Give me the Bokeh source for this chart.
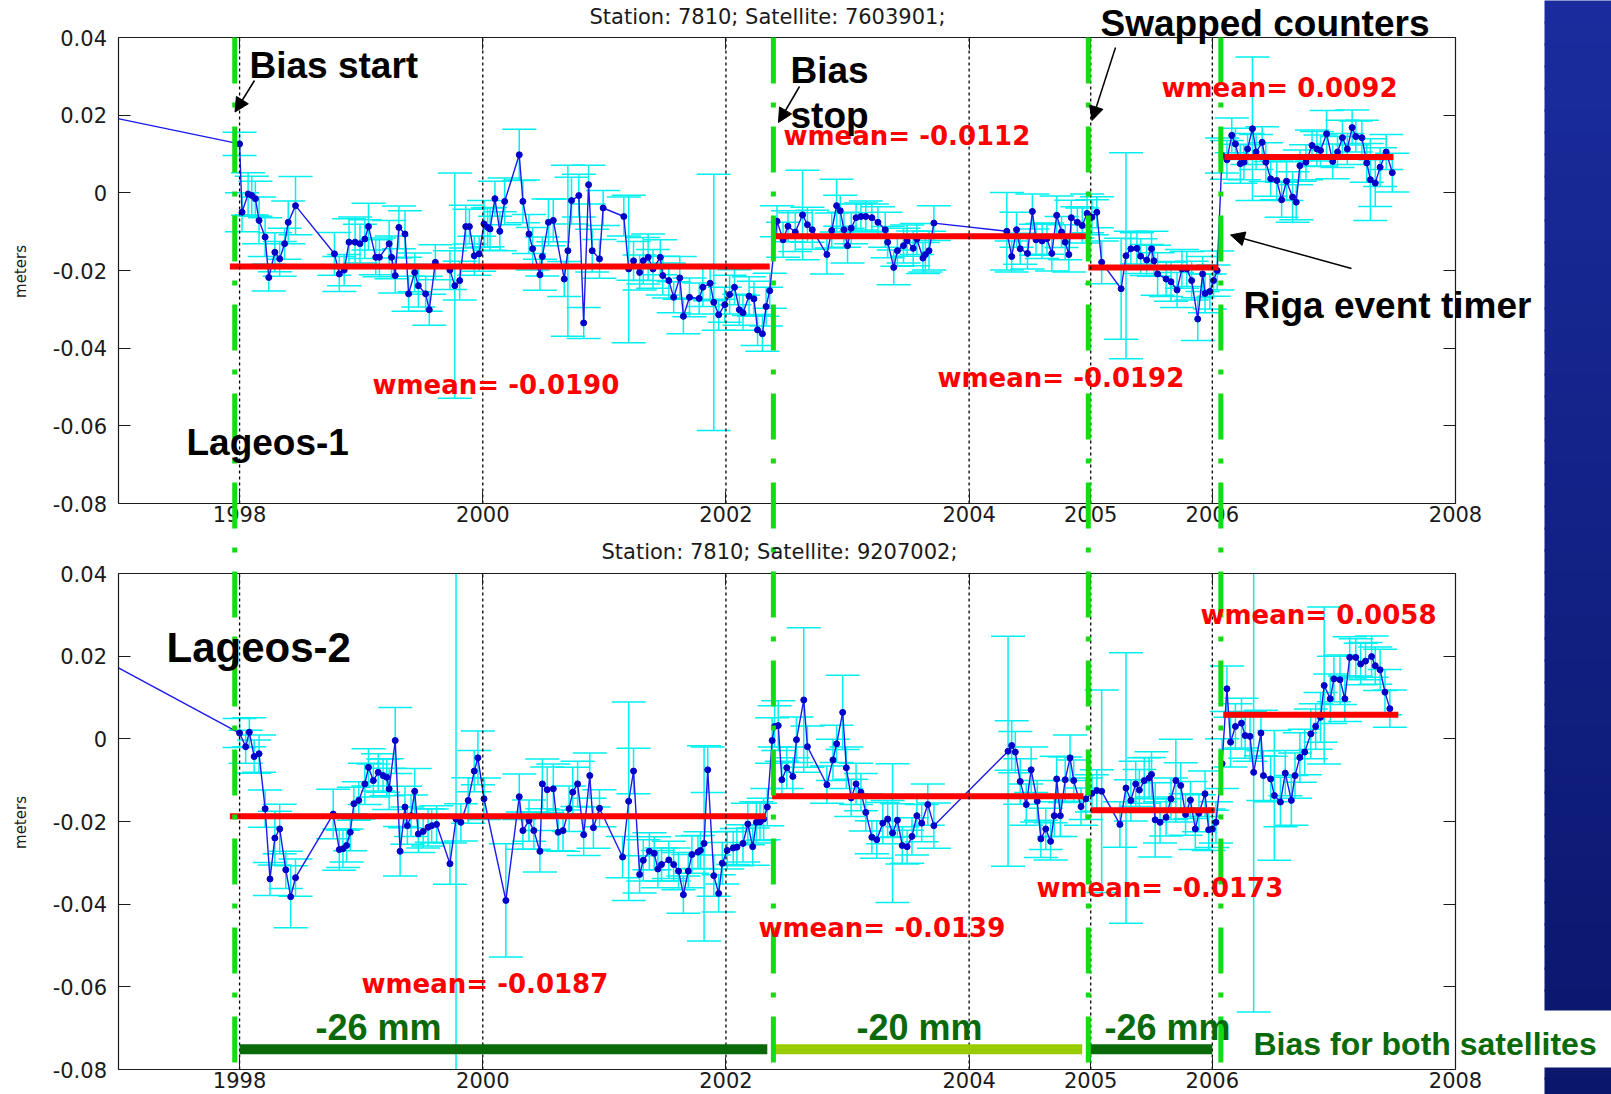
import numpy as np
from bokeh.plotting import figure
from bokeh.models import (ColumnDataSource, Range1d, LinearAxis, FixedTicker, Label,
                          Arrow, NormalHead, BoxAnnotation)
from bokeh.embed import file_html
from bokeh.resources import INLINE

# ---------------------------------------------------------------- data
x_ticks = [1998, 2000, 2002, 2004, 2005, 2006, 2008]
grid_years = [1998, 2000, 2002, 2004, 2005, 2006]
y_ticks = [-0.08, -0.06, -0.04, -0.02, 0.0, 0.02, 0.04]
y_tick_labels = ["-0.08", "-0.06", "-0.04", "-0.02", "0", "0.02", "0.04"]

event_years = [1997.96, 2002.39, 2004.98, 2006.07]

# Lageos-1 (station 7810, satellite 7603901)
l1_t = [1996.80, 1998.00, 1998.02, 1998.07, 1998.10, 1998.13, 1998.16, 1998.21, 1998.24, 1998.29,
        1998.33, 1998.37, 1998.40, 1998.46, 1998.78, 1998.82, 1998.86, 1998.90, 1998.95, 1998.99,
        1999.03, 1999.06, 1999.12, 1999.15, 1999.23, 1999.25, 1999.28, 1999.31, 1999.36, 1999.39,
        1999.44, 1999.47, 1999.53, 1999.56, 1999.61, 1999.73, 1999.77, 1999.81, 1999.86, 1999.89,
        1999.93, 1999.97, 2000.01, 2000.04, 2000.06, 2000.10, 2000.14, 2000.18, 2000.30, 2000.33,
        2000.38, 2000.41, 2000.47, 2000.49, 2000.54, 2000.58, 2000.67, 2000.70, 2000.73, 2000.79,
        2000.83, 2000.87, 2000.90, 2000.96, 2000.99, 2001.16, 2001.20, 2001.24, 2001.29, 2001.32,
        2001.36, 2001.40, 2001.46, 2001.48, 2001.53, 2001.57, 2001.62, 2001.65, 2001.70, 2001.78,
        2001.81, 2001.87, 2001.90, 2001.94, 2001.99, 2002.03, 2002.07, 2002.11, 2002.14, 2002.19,
        2002.23, 2002.26, 2002.30, 2002.33, 2002.36, 2002.42, 2002.47, 2002.51, 2002.57, 2002.63,
        2002.67, 2002.71, 2002.83, 2002.87, 2002.91, 2002.94, 2002.97, 2003.00, 2003.03, 2003.07,
        2003.11, 2003.15, 2003.20, 2003.25, 2003.31, 2003.33, 2003.38, 2003.41, 2003.46, 2003.49,
        2003.54, 2003.57, 2003.62, 2003.64, 2003.67, 2003.71, 2004.31, 2004.35, 2004.39, 2004.42,
        2004.48, 2004.52, 2004.55, 2004.60, 2004.64, 2004.68, 2004.72, 2004.76, 2004.79, 2004.82,
        2004.84, 2004.89, 2004.93, 2004.97, 2005.01, 2005.05, 2005.09, 2005.25, 2005.29, 2005.33,
        2005.38, 2005.41, 2005.46, 2005.50, 2005.52, 2005.55, 2005.62, 2005.66, 2005.71, 2005.75,
        2005.79, 2005.83, 2005.88, 2005.92, 2005.94, 2005.98, 2006.01, 2006.04, 2006.08, 2006.12,
        2006.16, 2006.19, 2006.23, 2006.26, 2006.29, 2006.33, 2006.36, 2006.41, 2006.44, 2006.48,
        2006.53, 2006.57, 2006.61, 2006.66, 2006.69, 2006.72, 2006.77, 2006.82, 2006.86, 2006.89,
        2006.94, 2006.99, 2007.03, 2007.07, 2007.11, 2007.15, 2007.18, 2007.23, 2007.27, 2007.30,
        2007.34, 2007.38, 2007.43, 2007.48]
l1_v = [0.0204, 0.0126, -0.0050, -0.0003, -0.0007, -0.0015, -0.0071, -0.0114, -0.0218, -0.0153,
        -0.0170, -0.0131, -0.0076, -0.0033, -0.0157, -0.0209, -0.0199, -0.0127, -0.0127, -0.0131,
        -0.0119, -0.0087, -0.0166, -0.0166, -0.0131, -0.0166, -0.0213, -0.0089, -0.0106, -0.0260,
        -0.0205, -0.0239, -0.0260, -0.0301, -0.0179, -0.0199, -0.0239, -0.0226, -0.0087, -0.0087,
        -0.0162, -0.0157, -0.0080, -0.0089, -0.0093, -0.0015, -0.0099, -0.0022, 0.0098, -0.0022,
        -0.0106, -0.0144, -0.0211, -0.0164, -0.0076, -0.0071, -0.0222, -0.0149, -0.0020, -0.0007,
        -0.0335, 0.0021, -0.0149, -0.0170, -0.0039, -0.0061, -0.0196, -0.0175, -0.0205, -0.0175,
        -0.0166, -0.0196, -0.0166, -0.0213, -0.0226, -0.0269, -0.0219, -0.0318, -0.0269, -0.0272,
        -0.0243, -0.0233, -0.0282, -0.0314, -0.0288, -0.0262, -0.0243, -0.0301, -0.0309, -0.0266,
        -0.0273, -0.0353, -0.0363, -0.0293, -0.0252, -0.0073, -0.0121, -0.0086, -0.0101, -0.0057,
        -0.0082, -0.0095, -0.0159, -0.0097, -0.0033, -0.0046, -0.0095, -0.0136, -0.0091, -0.0064,
        -0.0061, -0.0061, -0.0064, -0.0076, -0.0095, -0.0127, -0.0192, -0.0149, -0.0136, -0.0123,
        -0.0143, -0.0119, -0.0168, -0.0159, -0.0149, -0.0078, -0.0099, -0.0164, -0.0095, -0.0144,
        -0.0156, -0.0048, -0.0121, -0.0124, -0.0118, -0.0156, -0.0058, -0.0101, -0.0127, -0.0159,
        -0.0064, -0.0076, -0.0084, -0.0053, -0.0063, -0.0050, -0.0179, -0.0247, -0.0162, -0.0144,
        -0.0143, -0.0163, -0.0173, -0.0144, -0.0175, -0.0209, -0.0222, -0.0229, -0.0250, -0.0196,
        -0.0196, -0.0226, -0.0325, -0.0209, -0.0259, -0.0254, -0.0226, -0.0200, 0.0096, 0.0085,
        0.0148, 0.0126, 0.0075, 0.0079, 0.0113, 0.0165, 0.0105, 0.0130, 0.0079, 0.0036,
        0.0032, -0.0018, 0.0030, -0.0011, -0.0024, 0.0070, 0.0079, 0.0122, 0.0113, 0.0109,
        0.0152, 0.0081, 0.0105, 0.0142, 0.0113, 0.0168, 0.0145, 0.0142, 0.0077, 0.0034,
        0.0025, 0.0066, 0.0105, 0.0052]
l1_e = [0.004, 0.003, 0.005, 0.0055, 0.005, 0.0045, 0.006, 0.005, 0.0035, 0.005,
        0.0045, 0.004, 0.0055, 0.0075, 0.0055, 0.0045, 0.004, 0.006, 0.0065, 0.005,
        0.005, 0.006, 0.0045, 0.005, 0.006, 0.0055, 0.0045, 0.0055, 0.006, 0.0045,
        0.005, 0.0055, 0.0045, 0.004, 0.0045, 0.005, 0.029, 0.005, 0.0055, 0.0045,
        0.005, 0.0045, 0.006, 0.005, 0.0055, 0.0045, 0.005, 0.006, 0.0066, 0.0055,
        0.005, 0.0055, 0.004, 0.005, 0.006, 0.0055, 0.0045, 0.022, 0.006, 0.0055,
        0.004, 0.005, 0.0055, 0.005, 0.0045, 0.005, 0.019, 0.005, 0.0045, 0.006,
        0.006, 0.005, 0.0045, 0.005, 0.0045, 0.004, 0.0055, 0.0045, 0.005, 0.004,
        0.005, 0.0045, 0.033, 0.004, 0.0045, 0.005, 0.0045, 0.004, 0.0045, 0.005,
        0.0045, 0.004, 0.0045, 0.005, 0.0045, 0.004, 0.0045, 0.004, 0.005, 0.0115,
        0.0045, 0.005, 0.005, 0.0045, 0.0068, 0.004, 0.0045, 0.0045, 0.004, 0.0035,
        0.0035, 0.004, 0.0035, 0.004, 0.0045, 0.004, 0.0045, 0.004, 0.0045, 0.004,
        0.0045, 0.004, 0.004, 0.0045, 0.005, 0.0045, 0.010, 0.004, 0.0045, 0.004,
        0.004, 0.0045, 0.004, 0.0045, 0.004, 0.0045, 0.005, 0.004, 0.0045, 0.0045,
        0.0045, 0.004, 0.0045, 0.005, 0.0045, 0.004, 0.0055, 0.013, 0.0265, 0.0045,
        0.004, 0.0045, 0.004, 0.0045, 0.004, 0.0055, 0.0045, 0.005, 0.0045, 0.005,
        0.0045, 0.005, 0.0055, 0.0045, 0.005, 0.0045, 0.004, 0.005, 0.0045, 0.005,
        0.0045, 0.004, 0.005, 0.0045, 0.004, 0.0185, 0.0045, 0.004, 0.005, 0.0045,
        0.005, 0.0045, 0.005, 0.0065, 0.0045, 0.004, 0.0045, 0.004, 0.0045, 0.004,
        0.006, 0.0045, 0.004, 0.0045, 0.004, 0.0045, 0.004, 0.0045, 0.005, 0.0105,
        0.006, 0.005, 0.0045, 0.005]
l1_wmean = [-0.0190, -0.0112, -0.0192, 0.0092]
l1_wmean_start = [1997.92, 2002.39, 2004.98, 2006.10]
l1_wmean_end = [2002.36, 2004.96, 2006.05, 2007.49]

# Lageos-2 (station 7810, satellite 9207002)
l2_t = [1996.80, 1998.00, 1998.05, 1998.08, 1998.12, 1998.16, 1998.21, 1998.25, 1998.29, 1998.33,
        1998.38, 1998.42, 1998.46, 1998.77, 1998.82, 1998.85, 1998.88, 1998.91, 1998.94, 1998.98,
        1999.03, 1999.06, 1999.10, 1999.14, 1999.18, 1999.21, 1999.23, 1999.28, 1999.32, 1999.36,
        1999.38, 1999.41, 1999.44, 1999.47, 1999.51, 1999.55, 1999.58, 1999.62, 1999.73, 1999.78,
        1999.82, 1999.88, 1999.93, 1999.96, 2000.01, 2000.19, 2000.30, 2000.33, 2000.38, 2000.42,
        2000.47, 2000.49, 2000.53, 2000.58, 2000.62, 2000.66, 2000.71, 2000.74, 2000.78, 2000.83,
        2000.88, 2000.91, 2000.96, 2001.15, 2001.20, 2001.24, 2001.29, 2001.32, 2001.37, 2001.41,
        2001.44, 2001.47, 2001.53, 2001.57, 2001.61, 2001.65, 2001.69, 2001.72, 2001.77, 2001.79,
        2001.82, 2001.85, 2001.90, 2001.94, 2001.97, 2002.01, 2002.06, 2002.09, 2002.14, 2002.18,
        2002.22, 2002.25, 2002.28, 2002.31, 2002.34, 2002.38, 2002.40, 2002.43, 2002.46, 2002.50,
        2002.55, 2002.58, 2002.64, 2002.67, 2002.83, 2002.88, 2002.91, 2002.96, 2002.99, 2003.03,
        2003.07, 2003.11, 2003.15, 2003.20, 2003.24, 2003.29, 2003.33, 2003.37, 2003.41, 2003.45,
        2003.49, 2003.53, 2003.57, 2003.61, 2003.66, 2003.71, 2004.32, 2004.35, 2004.38, 2004.42,
        2004.47, 2004.51, 2004.56, 2004.59, 2004.63, 2004.67, 2004.70, 2004.72, 2004.75, 2004.79,
        2004.83, 2004.86, 2004.92, 2004.96, 2005.01, 2005.05, 2005.09, 2005.24, 2005.29, 2005.33,
        2005.37, 2005.40, 2005.44, 2005.48, 2005.50, 2005.53, 2005.57, 2005.62, 2005.66, 2005.70,
        2005.74, 2005.78, 2005.82, 2005.86, 2005.89, 2005.94, 2005.97, 2006.00, 2006.03, 2006.08,
        2006.12, 2006.15, 2006.19, 2006.24, 2006.27, 2006.31, 2006.34, 2006.40, 2006.42, 2006.48,
        2006.51, 2006.56, 2006.60, 2006.65, 2006.68, 2006.72, 2006.76, 2006.81, 2006.85, 2006.89,
        2006.92, 2006.97, 2007.00, 2007.05, 2007.09, 2007.13, 2007.18, 2007.22, 2007.26, 2007.31,
        2007.34, 2007.38, 2007.42, 2007.46]
l2_v = [0.0204, 0.0014, -0.0019, 0.0016, -0.0043, -0.0036, -0.0169, -0.0339, -0.0240, -0.0218,
        -0.0317, -0.0382, -0.0336, -0.0182, -0.0268, -0.0266, -0.0258, -0.0226, -0.0157, -0.0149,
        -0.0109, -0.0069, -0.0101, -0.0081, -0.0089, -0.0093, -0.0121, -0.0004, -0.0272, -0.0165,
        -0.0210, -0.0186, -0.0127, -0.0230, -0.0224, -0.0214, -0.0210, -0.0207, -0.0302, -0.0194,
        -0.0202, -0.0149, -0.0078, -0.0046, -0.0145, -0.0391, -0.0140, -0.0222, -0.0198, -0.0222,
        -0.0272, -0.0109, -0.0123, -0.0121, -0.0226, -0.0222, -0.0169, -0.0129, -0.0109, -0.0232,
        -0.0089, -0.0215, -0.0168, -0.0286, -0.0151, -0.0078, -0.0328, -0.0294, -0.0272, -0.0277,
        -0.0315, -0.0304, -0.0293, -0.0304, -0.0320, -0.0377, -0.0320, -0.0280, -0.0274, -0.0270,
        -0.0253, -0.0075, -0.0331, -0.0374, -0.0301, -0.0270, -0.0264, -0.0262, -0.0253, -0.0206,
        -0.0261, -0.0202, -0.0201, -0.0194, -0.0165, -0.0004, 0.0030, 0.0032, -0.0099, -0.0070,
        -0.0091, -0.0002, 0.0094, -0.0019, -0.0111, -0.0051, -0.0012, 0.0064, -0.0070, -0.0143,
        -0.0109, -0.0129, -0.0178, -0.0238, -0.0244, -0.0204, -0.0194, -0.0228, -0.0197, -0.0258,
        -0.0261, -0.0236, -0.0186, -0.0204, -0.0159, -0.0210, -0.0030, -0.0016, -0.0032, -0.0103,
        -0.0159, -0.0075, -0.0151, -0.0242, -0.0218, -0.0248, -0.0186, -0.0097, -0.0186, -0.0099,
        -0.0046, -0.0101, -0.0164, -0.0145, -0.0132, -0.0125, -0.0127, -0.0207, -0.0119, -0.0149,
        -0.0109, -0.0124, -0.0101, -0.0095, -0.0086, -0.0196, -0.0202, -0.0190, -0.0145, -0.0101,
        -0.0113, -0.0183, -0.0148, -0.0218, -0.0180, -0.0133, -0.0220, -0.0218, -0.0202, -0.0060,
        0.0121, -0.0008, 0.0030, 0.0038, 0.0008, 0.0006, -0.0081, 0.0014, -0.0089, -0.0097,
        -0.0137, -0.0153, -0.0083, -0.0149, -0.0089, -0.0045, -0.0032, 0.0012, 0.0030, 0.0052,
        0.0129, 0.0097, 0.0145, 0.0143, 0.0097, 0.0197, 0.0197, 0.0181, 0.0188, 0.0199,
        0.0177, 0.0167, 0.0113, 0.0073]
l2_e = [0.004, 0.0035, 0.004, 0.0035, 0.004, 0.0045, 0.0045, 0.004, 0.0065, 0.006,
        0.0045, 0.0075, 0.0045, 0.006, 0.005, 0.0045, 0.004, 0.0045, 0.004, 0.0045,
        0.005, 0.0045, 0.004, 0.0045, 0.004, 0.0045, 0.005, 0.008, 0.006, 0.005,
        0.0045, 0.005, 0.0055, 0.0045, 0.004, 0.0045, 0.004, 0.0045, 0.005, 0.08,
        0.0045, 0.0055, 0.005, 0.0065, 0.005, 0.0137, 0.0055, 0.0045, 0.005, 0.0045,
        0.005, 0.006, 0.0055, 0.006, 0.0045, 0.005, 0.0055, 0.006, 0.0055, 0.005,
        0.0055, 0.005, 0.0045, 0.005, 0.024, 0.0055, 0.0045, 0.005, 0.0045, 0.004,
        0.0045, 0.004, 0.0045, 0.004, 0.0045, 0.0045, 0.004, 0.0045, 0.004, 0.0045,
        0.0236, 0.0055, 0.005, 0.0045, 0.005, 0.0045, 0.004, 0.0045, 0.0045, 0.005,
        0.0045, 0.005, 0.0045, 0.005, 0.0045, 0.0055, 0.005, 0.006, 0.0045, 0.005,
        0.0045, 0.0055, 0.0175, 0.005, 0.0045, 0.005, 0.0045, 0.009, 0.005, 0.0045,
        0.005, 0.0045, 0.0045, 0.004, 0.0045, 0.005, 0.0045, 0.0168, 0.004, 0.0045,
        0.004, 0.0045, 0.005, 0.0045, 0.005, 0.0055, 0.0278, 0.006, 0.005, 0.0055,
        0.005, 0.0055, 0.005, 0.0045, 0.005, 0.0045, 0.005, 0.0055, 0.005, 0.0055,
        0.0055, 0.005, 0.0045, 0.005, 0.0045, 0.005, 0.0245, 0.0055, 0.0327, 0.005,
        0.0055, 0.005, 0.0055, 0.005, 0.0055, 0.009, 0.005, 0.0045, 0.005, 0.010,
        0.0055, 0.005, 0.0045, 0.005, 0.0045, 0.0055, 0.005, 0.0045, 0.005, 0.006,
        0.0055, 0.006, 0.0055, 0.006, 0.0055, 0.006, 0.058, 0.0055, 0.006, 0.0055,
        0.0157, 0.006, 0.0055, 0.006, 0.0055, 0.006, 0.0055, 0.006, 0.0055, 0.006,
        0.019, 0.006, 0.0055, 0.006, 0.0055, 0.005, 0.0045, 0.005, 0.0045, 0.005,
        0.0045, 0.005, 0.0055, 0.0045]
l2_wmean = [-0.0187, -0.0139, -0.0173, 0.0058]
l2_wmean_start = [1997.92, 2002.38, 2005.00, 2006.09]
l2_wmean_end = [2002.33, 2004.94, 2006.02, 2007.53]

bias_mm = [-26, -20, -26]
bias_start = [1998.00, 2002.40, 2004.99]
bias_end = [2002.34, 2004.93, 2006.00]

# ---------------------------------------------------------------- layout / style
PAGE_W, PAGE_H = 1611, 1094
X0, X1, Y0, Y1 = 1997.0, 2008.0, -0.08, 0.04
FX = (117.5, 1455.0)          # page x of X0 and X1
TOP_F = (37.0, 503.0)         # page y of Y1 and Y0, upper panel
BOT_F = (573.0, 1069.0)       # page y of Y1 and Y0, lower panel

DEJ = "DejaVu Sans"
ARB = "Liberation Sans"
INK = "#1a1a1a"
CYAN = "#00f0f0"
BLUE_LINE = "#1a1aee"
BLUE_DOT = "#0000c8"
RED = "#ff0000"
GREEN_EV = "#11dd11"
DARK_GREEN = "#0a6a0a"
LIGHT_GREEN = "#99cc00"
CAP = 0.14


def xd(px):
    return X0 + (px - FX[0]) * (X1 - X0) / (FX[1] - FX[0])


def yd(py, f=TOP_F):
    return Y1 - (py - f[0]) * (Y1 - Y0) / (f[1] - f[0])


p = figure(width=PAGE_W, height=PAGE_H,
           x_range=Range1d(xd(0), xd(PAGE_W)), y_range=Range1d(yd(PAGE_H), yd(0)),
           output_backend="svg", toolbar_location=None, tools="", title=None,
           x_axis_location=None, y_axis_location=None, min_border=0,
           outline_line_color=None, background_fill_color="white", border_fill_color="white")
p.extra_y_ranges = {"bot": Range1d(yd(PAGE_H, BOT_F), yd(0, BOT_F))}
p.xgrid.visible = False
p.ygrid.visible = False


def style_axis(ax, ticks, labels, size, standoff):
    ax.ticker = FixedTicker(ticks=ticks)
    ax.major_label_overrides = {t: l for t, l in zip(ticks, labels)}
    ax.major_tick_in = 12
    ax.major_tick_out = 0
    ax.minor_tick_in = 0
    ax.minor_tick_out = 0
    ax.axis_line_color = INK
    ax.axis_line_width = 1.2
    ax.major_tick_line_color = INK
    ax.major_label_text_font = DEJ
    ax.major_label_text_font_size = size
    ax.major_label_text_color = INK
    ax.major_label_standoff = standoff


# --- blue slide band on the right (decoration, page coordinates)
c_top = np.array([0x1a, 0x2c, 0x9e])
c_bot = np.array([0x0a, 0x16, 0x6c])
band_edges = list(range(0, PAGE_H + 22, 22))
notch = (1010, 1068)
for a, b in zip(band_edges[:-1], band_edges[1:]):
    pieces = []
    if b <= notch[0] or a >= notch[1]:
        pieces = [(a, b)]
    else:
        if a < notch[0]:
            pieces.append((a, notch[0]))
        if b > notch[1]:
            pieces.append((notch[1], b))
    c = c_top + (c_bot - c_top) * ((a + b) / 2.0 / PAGE_H)
    col = "#%02x%02x%02x" % tuple(int(round(k)) for k in c)
    for s, e_ in pieces:
        bottom_edge = e_ + (1 if e_ not in notch else 0)
        p.add_layout(BoxAnnotation(left=xd(1544), right=xd(PAGE_W + 10), top=yd(s - (1 if s else 5)),
                                   bottom=yd(bottom_edge), fill_color=col, fill_alpha=1.0,
                                   line_color=None))


def panel(t, v, e, wm, wm0, wm1, yname):
    t = np.asarray(t, float); v = np.asarray(v, float); e = np.asarray(e, float)
    vis = t >= X0
    k = int(np.argmax(vis))
    if k > 0:
        f = (X0 - t[k - 1]) / (t[k] - t[k - 1])
        lt = np.r_[X0, t[k:]]
        lv = np.r_[v[k - 1] + f * (v[k] - v[k - 1]), v[k:]]
    else:
        lt, lv = t, v
    t, v, e = t[vis], v[vis], e[vis]
    hi, lo = v + e, v - e
    src = ColumnDataSource(dict(
        t=t, v=v, hi=np.minimum(hi, Y1), lo=np.maximum(lo, Y0),
        chi=np.where(hi <= Y1, hi, np.nan), clo=np.where(lo >= Y0, lo, np.nan),
        cl=t - CAP, cr=t + CAP))
    kw = dict(source=src, line_color=CYAN, line_width=1.5, y_range_name=yname)
    p.segment(x0="t", y0="lo", x1="t", y1="hi", **kw)
    p.segment(x0="cl", y0="chi", x1="cr", y1="chi", **kw)
    p.segment(x0="cl", y0="clo", x1="cr", y1="clo", **kw)
    p.line(lt, lv, line_color=BLUE_LINE, line_width=1.4, y_range_name=yname)
    p.scatter("t", "v", source=src, size=6, fill_color=BLUE_DOT, line_color=BLUE_DOT,
              y_range_name=yname)
    wsrc = ColumnDataSource(dict(x0=wm0, x1=wm1, y=wm))
    p.segment(x0="x0", y0="y", x1="x1", y1="y", source=wsrc, line_color=RED, line_width=6,
              y_range_name=yname)
    gsrc = ColumnDataSource(dict(x=grid_years, y0=[Y0] * len(grid_years), y1=[Y1] * len(grid_years)))
    p.segment(x0="x", y0="y0", x1="x", y1="y1", source=gsrc, line_color="black",
              line_dash="3 3", line_width=1.3, y_range_name=yname)

    left = LinearAxis(y_range_name=yname, fixed_location=X0, bounds=(Y0, Y1))
    style_axis(left, y_ticks, y_tick_labels, "21px", 11)
    p.add_layout(left, "left")
    right = LinearAxis(y_range_name=yname, fixed_location=X1, bounds=(Y0, Y1))
    style_axis(right, y_ticks, [""] * len(y_ticks), "21px", 0)
    p.add_layout(right, "right")
    below = LinearAxis(y_range_name=yname, fixed_location=Y0, bounds=(X0, X1))
    style_axis(below, x_ticks, [str(x) for x in x_ticks], "21px", 2)
    p.add_layout(below, "below")
    above = LinearAxis(y_range_name=yname, fixed_location=Y1, bounds=(X0, X1))
    style_axis(above, x_ticks, [""] * len(x_ticks), "21px", 0)
    p.add_layout(above, "above")


panel(l1_t, l1_v, l1_e, l1_wmean, l1_wmean_start, l1_wmean_end, "default")
panel(l2_t, l2_v, l2_e, l2_wmean, l2_wmean_start, l2_wmean_end, "bot")

# bias bars (lower panel)
BIAS_Y = -0.0751
bsrc = ColumnDataSource(dict(x0=bias_start, x1=bias_end, y=[BIAS_Y] * len(bias_mm),
                             c=[DARK_GREEN if b == -26 else LIGHT_GREEN for b in bias_mm]))
p.segment(x0="x0", y0="y", x1="x1", y1="y", source=bsrc, line_color="c", line_width=10,
          y_range_name="bot")

# event lines crossing both panels
for ev in event_years:
    p.add_layout(Arrow(x_start=ev, y_start=yd(37), x_end=ev, y_end=yd(1063), end=None,
                       line_color=GREEN_EV, line_width=5, line_dash="46 19 5 19"))


def label(text, px, py, size, color="black", font=ARB, style="bold", align="left", angle=0):
    p.add_layout(Label(x=xd(px), y=yd(py), text=text, text_font=font, text_font_style=style,
                       text_font_size=size, text_color=color, text_align=align,
                       text_baseline="middle", angle=angle))


def pointer(x0, y0, x1, y1):
    p.add_layout(Arrow(x_start=xd(x0), y_start=yd(y0), x_end=xd(x1), y_end=yd(y1),
                       line_color="black", line_width=1.5,
                       end=NormalHead(size=14, fill_color="black", line_color="black")))


# titles and axis labels
label("Station: 7810; Satellite: 7603901;", 767, 16.5, "21px", color=INK, font=DEJ,
      style="normal", align="center")
label("Station: 7810; Satellite: 9207002;", 779, 551, "21px", color=INK, font=DEJ,
      style="normal", align="center")
label("meters", 20.5, 271, "15px", color=INK, font=DEJ, style="normal", align="center",
      angle=np.pi / 2)
label("meters", 20.5, 822, "15px", color=INK, font=DEJ, style="normal", align="center",
      angle=np.pi / 2)

# weighted means
for val, (px, py) in zip(l1_wmean + l2_wmean,
                         [(372, 384), (783, 135), (937, 377), (1161, 87),
                          (361, 983), (758, 927), (1036, 887), (1200, 614)]):
    label(f"wmean= {val: .4f}", px, py, "26px", color=RED, font=DEJ)

# slide annotations
label("Bias start", 249, 64.7, "37px")
label("Bias", 790, 70, "37px")
label("stop", 790, 115, "37px")
label("Swapped counters", 1100, 22.6, "37px")
label("Riga event timer", 1243, 305, "37px")
label("Lageos-1", 186, 442, "37px")
label("Lageos-2", 166, 647, "42px")
for b, px in zip(bias_mm, [315, 856, 1104]):
    label(f"{b} mm", px, 1027, "36px", color=DARK_GREEN)
label("Bias for both satellites", 1253, 1043, "32px", color=DARK_GREEN)

pointer(254, 80, 234.5, 111.5)
pointer(799, 86, 778, 122)
pointer(1115, 47, 1091.5, 120)
pointer(1351, 268, 1230, 234.5)

open("out.html", "w").write(file_html(p, INLINE))
